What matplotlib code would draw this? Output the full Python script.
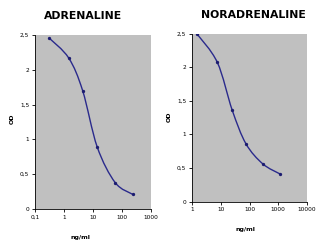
import numpy as np
import matplotlib
matplotlib.use("Agg")
import matplotlib.pyplot as plt
from matplotlib.path import Path
from matplotlib.patches import PathPatch
from matplotlib.ticker import FixedLocator, FuncFormatter

# data
adr_conc = [0.3, 1.45, 4.4, 14, 58, 235]
adr_od = [2.46, 2.17, 1.70, 0.89, 0.38, 0.21]
nor_conc = [1.45, 7.6, 25, 75, 290, 1150]
nor_od = [2.50, 2.07, 1.36, 0.86, 0.56, 0.41]

adr_xticks = [0.1, 1, 10, 100, 1000]
nor_xticks = [1, 10, 100, 1000, 10000]
y_ticks = [0, 0.5, 1, 1.5, 2, 2.5]

LINE = "#2a2a8c"
BG = "#c0c0c0"


def comma(v, _pos=None):
    s = f"{v:g}"
    return s.replace(".", ",")


def smooth_path(xs, ys):
    # Excel-like smoothed line as cubic bezier segments, built in log-x space
    lx = np.log10(xs)
    y = np.asarray(ys, float)
    n = len(lx)
    verts = [(xs[0], y[0])]
    codes = [Path.MOVETO]
    for i in range(n - 1):
        p0 = (lx[max(i - 1, 0)], y[max(i - 1, 0)])
        p1 = (lx[i], y[i])
        p2 = (lx[i + 1], y[i + 1])
        p3 = (lx[min(i + 2, n - 1)], y[min(i + 2, n - 1)])
        c1 = (p1[0] + (p2[0] - p0[0]) / 6, p1[1] + (p2[1] - p0[1]) / 6)
        c2 = (p2[0] - (p3[0] - p1[0]) / 6, p2[1] - (p3[1] - p1[1]) / 6)
        for c in (c1, c2, p2):
            verts.append((10 ** c[0], c[1]))
            codes.append(Path.CURVE4)
    return Path(verts, codes)


def draw(ax, conc, od, xticks, title, title_xy, xlabel_xy, ylabel_xy):
    ax.set_facecolor(BG)
    ax.set_xscale("log")
    ax.set_xlim(xticks[0], xticks[-1])
    ax.set_ylim(0, 2.5)
    ax.add_patch(PathPatch(smooth_path(conc, od), facecolor="none",
                           edgecolor=LINE, lw=1.0))
    ax.plot(conc, od, "o", color="#1c1c70", ms=2.4, mew=0)
    ax.xaxis.set_major_locator(FixedLocator(xticks))
    ax.xaxis.set_minor_locator(FixedLocator([]))
    ax.xaxis.set_major_formatter(FuncFormatter(comma))
    ax.yaxis.set_major_locator(FixedLocator(y_ticks))
    ax.yaxis.set_major_formatter(FuncFormatter(comma))
    ax.tick_params(labelsize=4.2, length=2, width=0.6, pad=2)
    for s in ("top", "right"):
        ax.spines[s].set_visible(False)
    for s in ("left", "bottom"):
        ax.spines[s].set_linewidth(0.6)
    fig = ax.figure
    fig.text(title_xy[0] / 316, 1 - title_xy[1] / 241, title,
             ha="center", va="center", fontsize=7.8, fontweight="bold",
             family="DejaVu Sans")
    fig.text(xlabel_xy[0] / 316, 1 - xlabel_xy[1] / 241, "ng/ml",
             ha="center", va="center", fontsize=4.5, fontweight="bold")
    fig.text(ylabel_xy[0] / 316, 1 - ylabel_xy[1] / 241, "OD", rotation=90,
             ha="center", va="center", fontsize=4.5, fontweight="bold")


fig = plt.figure(figsize=(3.16, 2.41), dpi=100)


# axes positions in pixels (left, top, right, bottom)
def px_axes(l, t, r, b):
    return fig.add_axes([l / 316, 1 - b / 241, (r - l) / 316, (b - t) / 241])


ax1 = px_axes(35, 35, 151, 209)
ax2 = px_axes(192, 33.5, 307, 201.5)

draw(ax1, adr_conc, adr_od, adr_xticks, "ADRENALINE", (83, 16), (80, 237), (12, 119))
draw(ax2, nor_conc, nor_od, nor_xticks, "NORADRENALINE", (253, 15), (245, 229), (169, 117))

fig.savefig("out.png", dpi=100)
